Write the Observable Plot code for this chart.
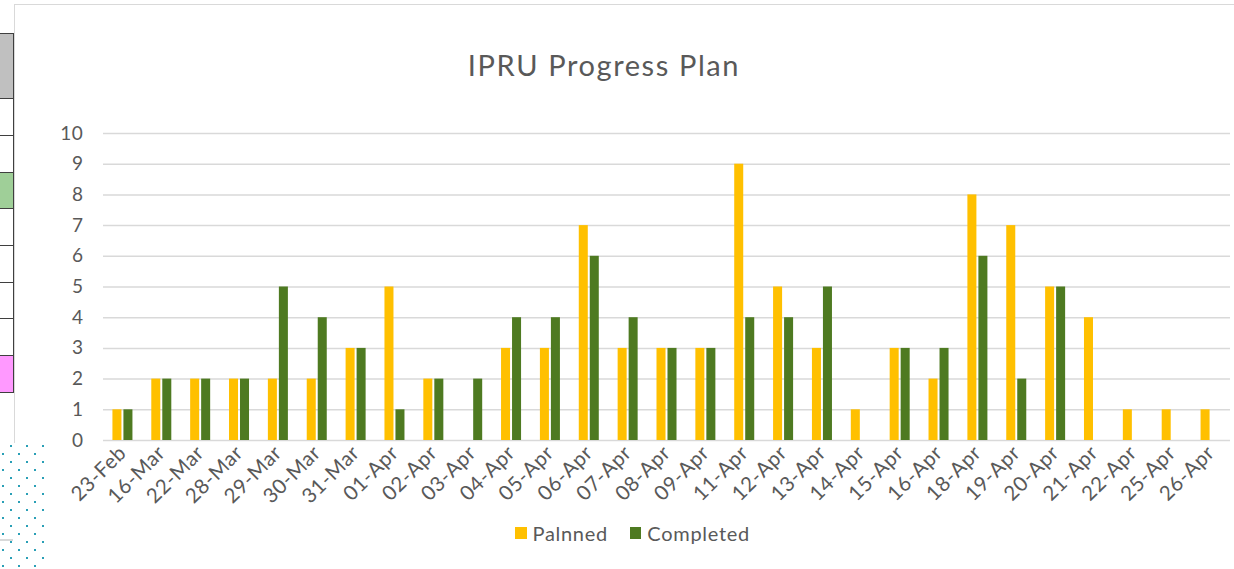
<!DOCTYPE html>
<html>
<head>
<meta charset="utf-8">
<script src="https://cdn.jsdelivr.net/npm/d3@7"></script>
<script src="https://cdn.jsdelivr.net/npm/@observablehq/plot@0.6"></script>
<style>
  html, body { margin: 0; padding: 0; background: #fff; }
  #root { position: relative; width: 1234px; height: 569px; overflow: hidden; background: #fff; font-family: Lato, "Open Sans", sans-serif; color: #595959; }
  .cell { position: absolute; left: -2px; width: 14px; border: 1.5px solid #3f3f3f; box-sizing: content-box; }
  #frame { position: absolute; left: 14px; top: 4px; width: 1230px; height: 438px; border-top: 1.5px solid #d9d9d9; border-left: 1.5px solid #d9d9d9; }
  #dots { position: absolute; left: 0; top: 440px; width: 48px; height: 129px;
    background-image: radial-gradient(circle, #2a9fb6 1.2px, transparent 1.4px), radial-gradient(circle, #2a9fb6 1.2px, transparent 1.4px);
    background-size: 16px 16px, 16px 16px;
    background-position: 3px -2px, -5px 6px; }
  #title { position: absolute; top: 47px; left: 0; width: 1208px; text-align: center; font-size: 29px; color: #595959; letter-spacing: 1.6px; }
  #chart { position: absolute; left: 0; top: 100px; }
  #chart svg text { letter-spacing: 0.6px; }
  #chart svg [aria-label^="x-axis"] { font-size: 20.5px; }
  #legend { position: absolute; top: 521px; left: 515px; display: flex; align-items: center; font-size: 20px; letter-spacing: 0.7px; color: #595959; white-space: nowrap; }
  .sw { display: inline-block; width: 11.5px; height: 11.5px; margin-right: 6px; }
  .item { display: flex; align-items: center; margin-right: 22px; }
</style>
</head>
<body>
<div id="root">
  <div class="cell" style="top:33px;height:64px;background:#c0c0c0"></div>
  <div class="cell" style="top:98px;height:36px;background:#fff"></div>
  <div class="cell" style="top:135px;height:36px;background:#fff"></div>
  <div class="cell" style="top:172px;height:35px;background:#9fcf98"></div>
  <div class="cell" style="top:208px;height:36px;background:#fff"></div>
  <div class="cell" style="top:245px;height:36px;background:#fff"></div>
  <div class="cell" style="top:282px;height:35px;background:#fff"></div>
  <div class="cell" style="top:318px;height:36px;background:#fff"></div>
  <div class="cell" style="top:355px;height:36px;background:#ff99ff"></div>
  <div id="frame"></div>
  <div style="position:absolute;left:0;top:539px;width:13px;height:2px;background:#d9d9d9"></div>
  <div id="dots"></div>
  <div id="title">IPRU Progress Plan</div>
  <div id="chart"></div>
  <div id="legend"></div>
</div>
<script>
const dates = ["23-Feb","16-Mar","22-Mar","28-Mar","29-Mar","30-Mar","31-Mar","01-Apr","02-Apr","03-Apr","04-Apr","05-Apr","06-Apr","07-Apr","08-Apr","09-Apr","11-Apr","12-Apr","13-Apr","14-Apr","15-Apr","16-Apr","18-Apr","19-Apr","20-Apr","21-Apr","22-Apr","25-Apr","26-Apr"];
const planned = [1,2,2,2,2,2,3,5,2,null,3,3,7,3,3,3,9,5,3,1,3,2,8,7,5,4,1,1,1];
const completed = [1,2,2,2,5,4,3,1,2,2,4,4,6,4,3,3,4,4,5,null,3,3,6,2,5,null,null,null,null];
const seriesNames = ["Palnned", "Completed"];
const seriesColors = ["#FFC000", "#4E7A21"];
const yTicks = [0,1,2,3,4,5,6,7,8,9,10];

const plannedData = dates.map((d, i) => ({date: d, value: planned[i]}));
const completedData = dates.map((d, i) => ({date: d, value: completed[i]}));

const chart = Plot.plot({
  width: 1234,
  height: 410,
  marginTop: 33,
  marginBottom: 70,
  marginLeft: 103,
  marginRight: 4,
  style: {fontFamily: "Lato, 'Open Sans', sans-serif", fontSize: "19px", color: "#595959", background: "transparent", overflow: "visible"},
  x: {domain: dates, round: false, paddingInner: 0.485, paddingOuter: 0.2425, label: null, tickSize: 0, tickRotate: -45, tickPadding: 9},
  y: {domain: [0, 10], ticks: yTicks, label: null, tickSize: 0, tickPadding: 20},
  marks: [
    Plot.ruleY(yTicks, {stroke: "#d9d9d9", strokeWidth: 1.5}),
    Plot.barY(plannedData, {x: "date", y: "value", fill: seriesColors[0], insetRight: 11}),
    Plot.barY(completedData, {x: "date", y: "value", fill: seriesColors[1], insetLeft: 11})
  ]
});
document.getElementById("chart").appendChild(chart);

const legend = document.getElementById("legend");
seriesNames.forEach((name, i) => {
  const item = document.createElement("span");
  item.className = "item";
  const sw = document.createElement("span");
  sw.className = "sw";
  sw.style.background = seriesColors[i];
  item.appendChild(sw);
  item.appendChild(document.createTextNode(name));
  legend.appendChild(item);
});
</script>
</body>
</html>
